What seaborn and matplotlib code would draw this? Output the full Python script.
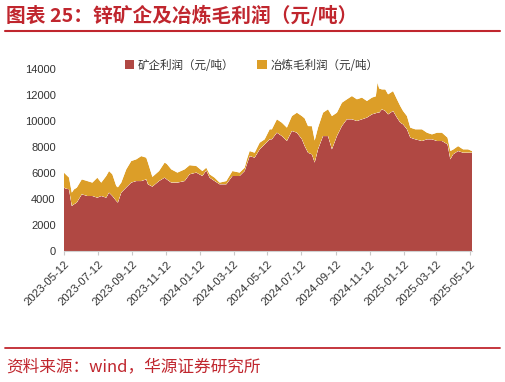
import matplotlib
matplotlib.use("Agg")
import matplotlib.pyplot as plt
import matplotlib.dates as mdates
from matplotlib.lines import Line2D
from matplotlib.patches import Patch
import numpy as np
import pandas as pd
import seaborn as sns
import seaborn.objects as so

# ---------------- data ----------------
dates = [
    "2023-05-12", "2023-05-15", "2023-05-21", "2023-05-26", "2023-05-30", "2023-06-04",
    "2023-06-13", "2023-06-23", "2023-07-02", "2023-07-11", "2023-07-18", "2023-07-27",
    "2023-08-01", "2023-08-07", "2023-08-14", "2023-08-17", "2023-08-23", "2023-09-01",
    "2023-09-10", "2023-09-19", "2023-09-28", "2023-10-07", "2023-10-10", "2023-10-18",
    "2023-10-30", "2023-11-09", "2023-11-13", "2023-11-21", "2023-12-02", "2023-12-15",
    "2023-12-24", "2024-01-05", "2024-01-16", "2024-01-23", "2024-01-29", "2024-02-07",
    "2024-02-16", "2024-02-28", "2024-03-10", "2024-03-23", "2024-04-01", "2024-04-05",
    "2024-04-10", "2024-04-19", "2024-04-28", "2024-05-07", "2024-05-16", "2024-05-20",
    "2024-05-29", "2024-06-07", "2024-06-16", "2024-06-25", "2024-07-04", "2024-07-13",
    "2024-07-18", "2024-07-24", "2024-07-31", "2024-08-05", "2024-08-11", "2024-08-20",
    "2024-08-29", "2024-09-05", "2024-09-14", "2024-09-23", "2024-10-02", "2024-10-11",
    "2024-10-20", "2024-10-29", "2024-11-07", "2024-11-16", "2024-11-23", "2024-11-26",
    "2024-11-29", "2024-12-04", "2024-12-10", "2024-12-15", "2024-12-24", "2024-12-31",
    "2025-01-06", "2025-01-11", "2025-01-18", "2025-01-24", "2025-02-02", "2025-02-14",
    "2025-02-23", "2025-03-04", "2025-03-13", "2025-03-22", "2025-04-01", "2025-04-06",
    "2025-04-11", "2025-04-20", "2025-04-29", "2025-05-08", "2025-05-15",
]
mine_profit = [
    4875, 4800, 4750, 3460, 3590, 3720,
    4360, 4230, 4230, 4100, 4230, 4100,
    4490, 4230, 3850, 3720, 4490, 4880,
    5260, 5380, 5380, 5510, 5130, 4950,
    5380, 5640, 5500, 5260, 5260, 5380,
    5900, 6030, 5770, 6200, 5640, 5380,
    5130, 5130, 5770, 5770, 6150, 6670,
    7300, 7180, 7820, 8200, 8590, 8590,
    9100, 8840, 8460, 9230, 9100, 8590,
    8070, 7560, 7430, 6800, 7820, 8840,
    8840, 7820, 8840, 9610, 10130, 10130,
    10000, 10130, 10260, 10510, 10600, 10640,
    10640, 10900, 10770, 10510, 10770, 10260,
    9870, 9740, 9360, 8720, 8590, 8460,
    8590, 8590, 8460, 8460, 8200, 7050,
    7430, 7690, 7560, 7560, 7560,
]
smelter_profit = [
    1150, 1100, 900, 1030, 1150, 1150,
    1150, 1150, 1030, 1540, 1030, 1670,
    1660, 1670, 1150, 1180, 770, 1400,
    1660, 1670, 1920, 1670, 1670, 750,
    770, 1160, 1200, 1020, 770, 900,
    700, 510, 380, 210, 260, 260,
    130, 250, 380, 260, 260, 380,
    390, 380, 510, 390, 770, 770,
    1030, 1030, 1030, 1150, 1540, 1790,
    2130, 2050, 2170, 1700, 1670, 1800,
    2060, 2560, 1800, 1800, 1540, 1790,
    1670, 1670, 1280, 1290, 1300, 2310,
    1860, 1530, 1660, 1540, 1530, 1410,
    1280, 1030, 1020, 770, 770, 900,
    510, 380, 640, 640, 520, 640,
    370, 380, 260, 260, 130,
]
series_names = ["矿企利润（元/吨）", "冶炼毛利润（元/吨）"]
series_colors = ["#B04843", "#DC9E28"]
y_ticks = [0, 2000, 4000, 6000, 8000, 10000, 12000, 14000]
x_tick_labels = [
    "2023-05-12", "2023-07-12", "2023-09-12", "2023-11-12", "2024-01-12", "2024-03-12",
    "2024-05-12", "2024-07-12", "2024-09-12", "2024-11-12", "2025-01-12", "2025-03-12",
    "2025-05-12",
]
title = "图表 25：锌矿企及冶炼毛利润（元/吨）"
source = "资料来源：wind，华源证券研究所"

# ---------------- build table ----------------
d = pd.to_datetime(dates)
df = pd.concat([
    pd.DataFrame({"date": d, "value": mine_profit, "series": series_names[0]}),
    pd.DataFrame({"date": d, "value": smelter_profit, "series": series_names[1]}),
], ignore_index=True)

sns.set_theme(style="white")
plt.rcParams["font.family"] = ["Liberation Sans", "Noto Sans CJK SC", "DejaVu Sans"]

RED = "#C0262E"
W, H = 506, 382
fig = plt.figure(figsize=(W / 100, H / 100), dpi=100)
fig.patch.set_facecolor("white")
ax = fig.add_axes([64 / W, 1 - 251 / H, (472 - 64) / W, (251 - 69) / H])

(
    so.Plot(df, x="date", y="value", color="series")
    .add(so.Area(alpha=1, edgewidth=0), so.Stack(), legend=False)
    .scale(color=dict(zip(series_names, series_colors)))
    .on(ax)
    .plot()
)

ax.set_facecolor("white")
ax.grid(False)
ax.set_xlabel("")
ax.set_ylabel("")
ax.set_ylim(0, 14000)
ax.set_yticks(y_ticks)
ax.set_yticklabels([str(v) for v in y_ticks])
xt = pd.to_datetime(x_tick_labels)
ax.set_xlim(mdates.date2num(d[0]), mdates.date2num(d[-1]))
ax.set_xticks(mdates.date2num(xt))
ax.set_xticklabels(x_tick_labels, rotation=45, ha="right", rotation_mode="anchor")
for s in ["top", "right", "left"]:
    ax.spines[s].set_visible(False)
ax.spines["bottom"].set_color("#D0D0D0")
ax.spines["bottom"].set_linewidth(0.8)
ax.tick_params(axis="y", length=0, labelsize=8, labelcolor="#333333", pad=6)
ax.tick_params(axis="x", length=3, color="#C8C8C8", width=0.8, labelsize=8.2,
               labelcolor="#333333", pad=3, bottom=True)
for lab in ax.get_xticklabels() + ax.get_yticklabels():
    lab.set_fontfamily(["Liberation Sans", "DejaVu Sans"])

handles = [Patch(facecolor=c, edgecolor="none") for c in series_colors]
leg = ax.legend(handles, series_names, loc="center", bbox_to_anchor=(0.46, 1.02),
                ncol=2, frameon=False, handlelength=0.8, handleheight=0.8,
                handletextpad=0.3, columnspacing=2.0,
                prop={"family": ["Noto Sans CJK SC"], "size": 8.3})
for t in leg.get_texts():
    t.set_color("#333333")

fig.text(6 / W, 1 - 15 / H, title, fontsize=14.2, fontweight="bold", color=RED,
         va="center", ha="left", family=["Noto Sans CJK SC", "DejaVu Sans"])
fig.add_artist(Line2D([5 / W, 500 / W], [1 - 30.5 / H] * 2, color=RED, lw=1.5))
fig.add_artist(Line2D([5 / W, 500 / W], [1 - 348 / H] * 2, color=RED, lw=1.3))
fig.text(6 / W, 1 - 367 / H, source, fontsize=12, color=RED, va="center", ha="left",
         family=["Noto Sans CJK SC", "DejaVu Sans"])

fig.savefig("out.png", dpi=100, facecolor="white")
